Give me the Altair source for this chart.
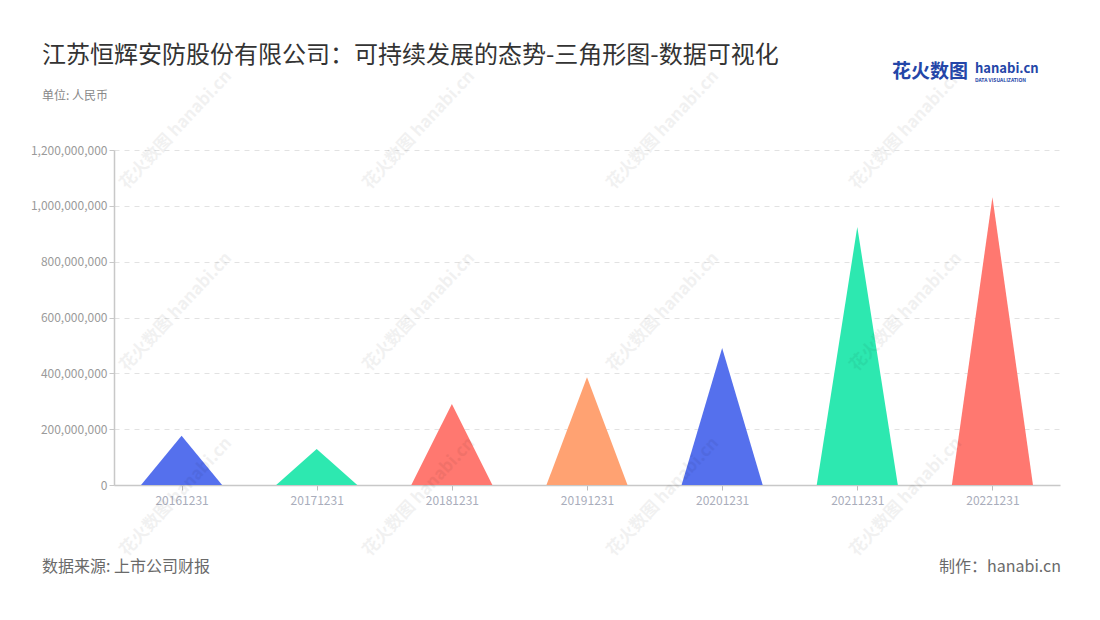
import altair as alt
import pandas as pd

# ---- data ----
categories = ["20161231", "20171231", "20181231", "20191231", "20201231", "20211231", "20221231"]
values = [176000000, 129000000, 290000000, 386000000, 491000000, 924000000, 1031000000]
colors = ["#5570ED", "#2DE8B0", "#FF7870", "#FFA272", "#5570ED", "#2DE8B0", "#FF7870"]
y_ticks = [0, 200000000, 400000000, 600000000, 800000000, 1000000000, 1200000000]

title_text = "江苏恒辉安防股份有限公司：可持续发展的态势-三角形图-数据可视化"
unit_text = "单位: 人民币"
source_text = "数据来源: 上市公司财报"
maker_text = "制作：hanabi.cn"

FONT = "Noto Sans CJK SC"
W, H = 946, 335
HALF = 0.3  # half base width of each triangle, in category units

# triangle table built from the arrays above
rows = []
for i, (c, v) in enumerate(zip(categories, values)):
    rows.append({"cat": c, "pos": float(i - HALF), "val": 0.0})
    rows.append({"cat": c, "pos": float(i), "val": float(v)})
    rows.append({"cat": c, "pos": float(i + HALF), "val": 0.0})
tri = pd.DataFrame(rows)

label_expr = "[" + ",".join("'%s'" % c for c in categories) + "][datum.value]"

triangles = alt.Chart(tri).mark_area(line=False).encode(
    x=alt.X("pos:Q",
            scale=alt.Scale(domain=[-0.5, len(categories) - 0.5], nice=False, zero=False),
            axis=alt.Axis(values=list(range(len(categories))), labelExpr=label_expr,
                          grid=False, title=None, tickSize=5, tickColor="#bbb",
                          domainColor="#c8c8c8", domainWidth=1.5,
                          labelColor="#a9adbb", labelFontSize=12, labelFont=FONT,
                          labelPadding=5)),
    y=alt.Y("val:Q", stack=None,
            scale=alt.Scale(domain=[0, 1200000000], nice=False),
            axis=alt.Axis(values=y_ticks, format=",d", title=None,
                          tickSize=5, tickColor="#c8c8c8",
                          domainColor="#c8c8c8", domainWidth=1.5,
                          gridDash=[5, 5], gridColor="#e2e2e2",
                          labelColor="#9a9a9a", labelFontSize=12, labelFont=FONT,
                          labelPadding=2)),
    color=alt.Color("cat:N", scale=alt.Scale(domain=categories, range=colors), legend=None),
    detail="cat:N",
)


def txt(s, x, y, size, color, align="left", weight="normal", baseline="middle",
        angle=0, opacity=1.0):
    return alt.Chart(pd.DataFrame({"t": [s]})).mark_text(
        font=FONT, fontSize=size, color=color, align=align, baseline=baseline,
        fontWeight=weight, angle=angle, opacity=opacity,
    ).encode(text="t:N", x=alt.value(x), y=alt.value(y))


OX, OY = 114, 150  # page position of plot origin

layers = [triangles]

# watermarks
for wx in [176, 419, 663, 906]:
    for wy in [130, 312, 497]:
        layers.append(txt("花火数图 hanabi.cn", wx - OX, wy - OY, 17, "#000000",
                          align="center", weight="bold", angle=313, opacity=0.05))

layers += [
    txt(title_text, 42 - OX, 56 - OY, 24, "#333333"),
    txt(unit_text, 42 - OX, 96 - OY, 12, "#888888"),
    txt(source_text, 42 - OX, 567 - OY, 16, "#6a6a6a"),
    txt(maker_text, 1061 - OX, 567 - OY, 16, "#6a6a6a", align="right"),
    # logo
    txt("花火数图", 892 - OX, 72 - OY, 19, "#2446a8", weight="bold"),
    txt("hanabi.cn", 975 - OX, 69 - OY, 13, "#2446a8", weight="bold"),
    txt("DATA VISUALIZATION", 975 - OX, 80 - OY, 5, "#2446a8", weight="bold"),
]

chart = alt.layer(*layers).properties(
    width=W, height=H,
    autosize=alt.AutoSizeParams(type="none"),
    padding={"left": OX - 8, "top": OY - 8, "right": 1084 - (OX - 8) - W, "bottom": 604 - (OY - 8) - H},
    background="white",
).configure_view(stroke=None)

chart.save("out.html", embed_options={"renderer": "svg", "actions": False})
